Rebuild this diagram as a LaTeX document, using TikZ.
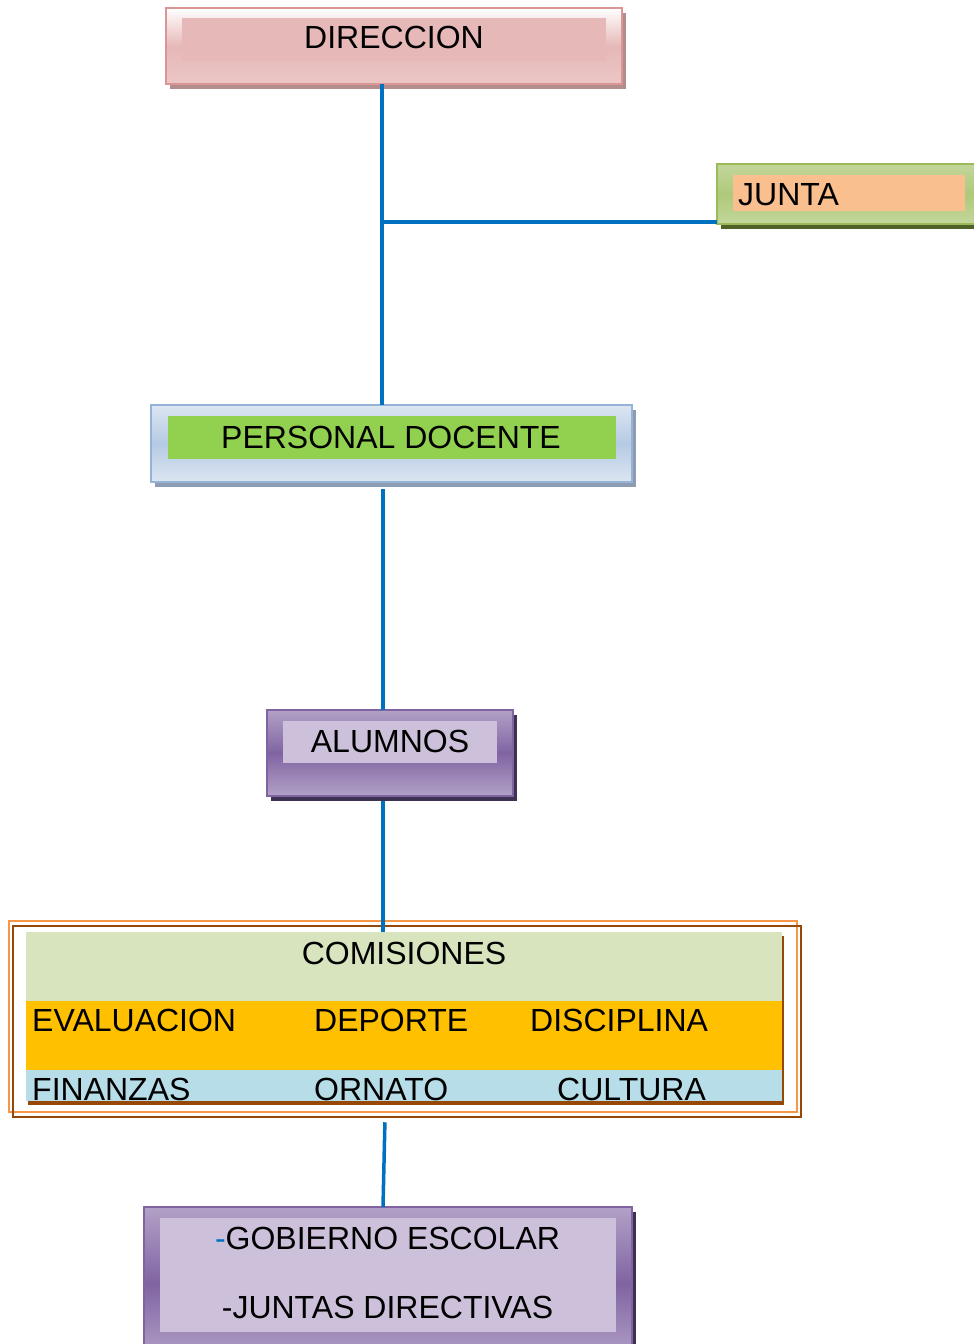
\documentclass[tikz,border=0pt]{standalone}
\usepackage{fontspec}
\setmainfont{Liberation Sans}
\usepackage{xcolor}
\usetikzlibrary{positioning, shadows, calc}

\definecolor{linea}{HTML}{0070C0}
\definecolor{rosa}{HTML}{E6B8B7}
\definecolor{rosaborde}{HTML}{D99694}
\definecolor{rosasombra}{HTML}{B38C8C}
\definecolor{verdeborde}{HTML}{9BBB59}
\definecolor{verdeclaro}{HTML}{C3D69B}
\definecolor{verdesombra}{HTML}{4F6228}
\definecolor{durazno}{HTML}{FABF8F}
\definecolor{azulborde}{HTML}{95B3D7}
\definecolor{azulclaro}{HTML}{DCE6F2}
\definecolor{azulsombra}{HTML}{8E9CB2}
\definecolor{verdepasto}{HTML}{92D050}
\definecolor{moradoborde}{HTML}{8064A2}
\definecolor{moradoclaro}{HTML}{B2A1C7}
\definecolor{moradosombra}{HTML}{3F3151}
\definecolor{lila}{HTML}{CCC0DA}
\definecolor{naranja}{HTML}{F79646}
\definecolor{cafe}{HTML}{974806}
\definecolor{verdetabla}{HTML}{D7E4BD}
\definecolor{oro}{HTML}{FFC000}
\definecolor{celeste}{HTML}{B7DDE8}

\tikzset{
    caja/.style={draw, line width=1.5pt, inner sep=0pt, outer sep=0pt},
    interior/.style={inner sep=0pt, outer sep=0pt},
    texto/.style={inner sep=0pt, font=\fontsize{32}{38}\selectfont},
    link/.style={draw=linea, line width=3.5pt},
}

\begin{document}
\begin{tikzpicture}[x=1pt, y=-1pt]
                    \useasboundingbox (0, 0) rectangle (974, 1344);

                    % cajas
                    \node[caja, draw=rosaborde, top color=white, bottom color=rosa!80, middle color=rosa,
                        drop shadow={shadow xshift=4pt, shadow yshift=-5pt, fill=rosasombra, opacity=1},
                        minimum width=456pt, minimum height=76pt] (dir) at (394, 46) {};
                    \node[interior, fill=rosa, minimum width=424pt, minimum height=43pt] (dirin) at (394, 39.5) {};
                    \node[texto, anchor=base] (dirtxt) at (394, 48) {DIRECCION};

                    \node[caja, draw=verdeborde, top color=verdeclaro, bottom color=verdeclaro, middle color=verdeborde!80,
                        drop shadow={shadow xshift=4pt, shadow yshift=-5pt, fill=verdesombra, opacity=1},
                        minimum width=273pt, minimum height=60pt] (junta) at (853.5, 194) {};
                    \node[interior, fill=durazno, minimum width=232pt, minimum height=36pt] (juntain) at (849, 193) {};
                    \node[texto, anchor=base west] (juntatxt) at (738, 205) {JUNTA};

                    \node[caja, draw=azulborde, top color=azulclaro, bottom color=azulclaro, middle color=azulborde!70,
                        drop shadow={shadow xshift=4pt, shadow yshift=-5pt, fill=azulsombra, opacity=1},
                        minimum width=481pt, minimum height=77pt] (pd) at (391.5, 443.5) {};
                    \node[interior, fill=verdepasto, minimum width=448pt, minimum height=43pt] (pdin) at (392, 437.5) {};
                    \node[texto, anchor=base] (pdtxt) at (391, 448) {PERSONAL DOCENTE};

                    \node[caja, draw=moradoborde, top color=moradoclaro, bottom color=moradoclaro, middle color=moradoborde,
                        drop shadow={shadow xshift=4pt, shadow yshift=-5pt, fill=moradosombra, opacity=1},
                        minimum width=246pt, minimum height=86pt] (alu) at (390, 753) {};
                    \node[interior, fill=lila, minimum width=214pt, minimum height=42pt] (aluin) at (390, 742) {};
                    \node[texto, anchor=base] (alutxt) at (390, 752) {ALUMNOS};

                    % comisiones
                    \node[draw=naranja, line width=2.5pt, inner sep=0pt, minimum width=788pt, minimum height=191pt] (marcoa) at (403, 1016.5) {};
                    \node[draw=cafe, line width=2.5pt, inner sep=0pt, minimum width=788pt, minimum height=191pt] (marcob) at (407, 1021.5) {};
                    \node[interior, fill=verdetabla,
                        drop shadow={shadow xshift=2pt, shadow yshift=-4pt, fill=cafe, opacity=1},
                        minimum width=756pt, minimum height=169pt] (tabla) at (404, 1016.5) {};
                    \node[interior, fill=oro, minimum width=756pt, minimum height=69pt] (fila2) at (404, 1035.5) {};
                    \node[interior, fill=celeste, minimum width=756pt, minimum height=31pt] (fila3) at (404, 1085.5) {};

                    \node[texto, anchor=base] (comtxt) at (404, 964) {COMISIONES};
                    \node[texto, anchor=base west] (eva) at (32, 1031) {EVALUACION};
                    \node[texto, anchor=base west] (dep) at (314, 1031) {DEPORTE};
                    \node[texto, anchor=base west] (dis) at (530, 1031) {DISCIPLINA};
                    \node[texto, anchor=base west] (fin) at (32, 1100) {FINANZAS};
                    \node[texto, anchor=base west] (orn) at (314, 1100) {ORNATO};
                    \node[texto, anchor=base west] (cul) at (557, 1100) {CULTURA};

                    \node[caja, draw=moradoborde, top color=moradoclaro, bottom color=moradoclaro, middle color=moradoborde,
                        drop shadow={shadow xshift=4pt, shadow yshift=-5pt, fill=moradosombra, opacity=1},
                        minimum width=488pt, minimum height=153pt] (gob) at (388, 1283.5) {};
                    \node[interior, fill=lila, minimum width=456pt, minimum height=114pt] (gobin) at (388, 1275) {};
                    \node[texto, anchor=base] (gobtxt) at (387.5, 1249) {{\color{linea}-}GOBIERNO ESCOLAR};
                    \node[texto, anchor=base] (juntastxt) at (387.5, 1318) {-JUNTAS DIRECTIVAS};

                    % lineas
                    \coordinate (trunk) at (382, 0);
                    \coordinate (fork) at (382, 222);
                    \draw[link] (dir.south -| trunk) -- (pd.north -| trunk);
                    \draw[link] (fork) -- (fork -| junta.west);
                    \draw[link, shorten <=7pt] ($(pd.south -| trunk) + (1, 0)$) -- ($(alu.north -| trunk) + (1, 0)$);
                    \draw[link, shorten <=5pt] ($(alu.south -| trunk) + (1, 0)$) -- ($(tabla.north -| trunk) + (1, 0)$);
                    \draw[link, shorten <=4pt] ($(marcob.south -| trunk) + (3, 0)$) -- ($(gob.north -| trunk) + (1, 0)$);
                \end{tikzpicture}
\end{document}
